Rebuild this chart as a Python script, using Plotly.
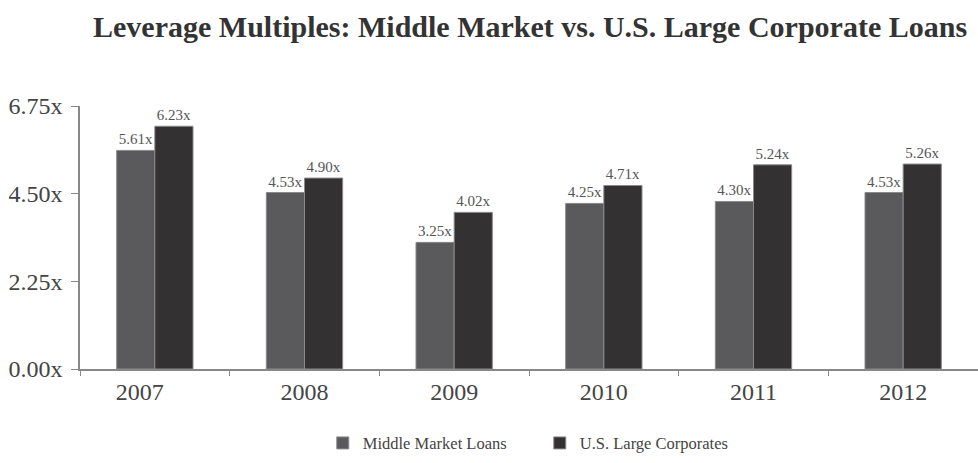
import plotly.graph_objects as go

years = ["2007", "2008", "2009", "2010", "2011", "2012"]
middle_market = [5.61, 4.53, 3.25, 4.25, 4.30, 4.53]
large_corp = [6.23, 4.90, 4.02, 4.71, 5.24, 5.26]
y_ticks = [0, 2.25, 4.5, 6.75]
y_tick_labels = ["0.00x", "2.25x", "4.50x", "6.75x"]
x_tick_labels = ["2007" + "&nbsp;" * 5, "2008", "2009", "2010", "2011", "2012"]

font_family = "Liberation Serif"

fig = go.Figure()
fig.add_trace(go.Bar(
    x=years, y=middle_market, name="Middle Market Loans",
    marker=dict(color="#5a5a5c", line=dict(color="#8a8a8a", width=1)),
    text=[f"{v:.2f}x" for v in middle_market], textposition="outside",
    textfont=dict(size=15, color="#555555", family=font_family), cliponaxis=False,
))
fig.add_trace(go.Bar(
    x=years, y=large_corp, name="U.S. Large Corporates",
    marker=dict(color="#333132", line=dict(color="#8a8a8a", width=1)),
    text=[f"{v:.2f}x" for v in large_corp], textposition="outside",
    textfont=dict(size=15, color="#555555", family=font_family), cliponaxis=False,
))

fig.update_layout(
    width=978, height=463,
    paper_bgcolor="white", plot_bgcolor="white",
    margin=dict(l=80, r=0, t=106, b=94, autoexpand=False),
    barmode="group", bargap=0.49, bargroupgap=0,
    font=dict(family=font_family, color="#444444"),
    title=dict(text="<b>Leverage Multiples: Middle Market vs. U.S. Large Corporate Loans</b>",
               x=0.542, xanchor="center", y=0.943, yanchor="middle",
               font=dict(size=30, color="#333333", family=font_family)),
    showlegend=True,
    legend=dict(orientation="h", x=0.512, xanchor="center",
                yref="container", y=0.005, yanchor="bottom",
                font=dict(size=16.5, color="#444444", family=font_family),
                entrywidth=172, tracegroupgap=0),
    uniformtext=dict(mode=False),
)
fig.update_yaxes(range=[0, 6.75], tickvals=y_ticks, ticktext=y_tick_labels,
                 showgrid=False, zeroline=False, showline=True, linecolor="#888888", linewidth=1.5,
                 ticks="outside", ticklen=7, tickcolor="#888888", ticklabelstandoff=4,
                 tickfont=dict(size=24, color="#444444", family=font_family))
fig.update_xaxes(showgrid=False, showline=True, linecolor="#888888", linewidth=1.5,
                 tickvals=years, ticktext=x_tick_labels,
                 ticks="outside", tickson="boundaries", ticklen=5, tickcolor="#888888",
                 tickfont=dict(size=24, color="#444444", family=font_family))

fig.write_html("out.html", config={"displayModeBar": False})

# remove default page margin so the figure sits at the window origin
with open("out.html", "r", encoding="utf-8") as f:
    html = f.read()
html = html.replace("<head>", "<head><style>body{margin:0;padding:0;}</style>", 1)
with open("out.html", "w", encoding="utf-8") as f:
    f.write(html)
